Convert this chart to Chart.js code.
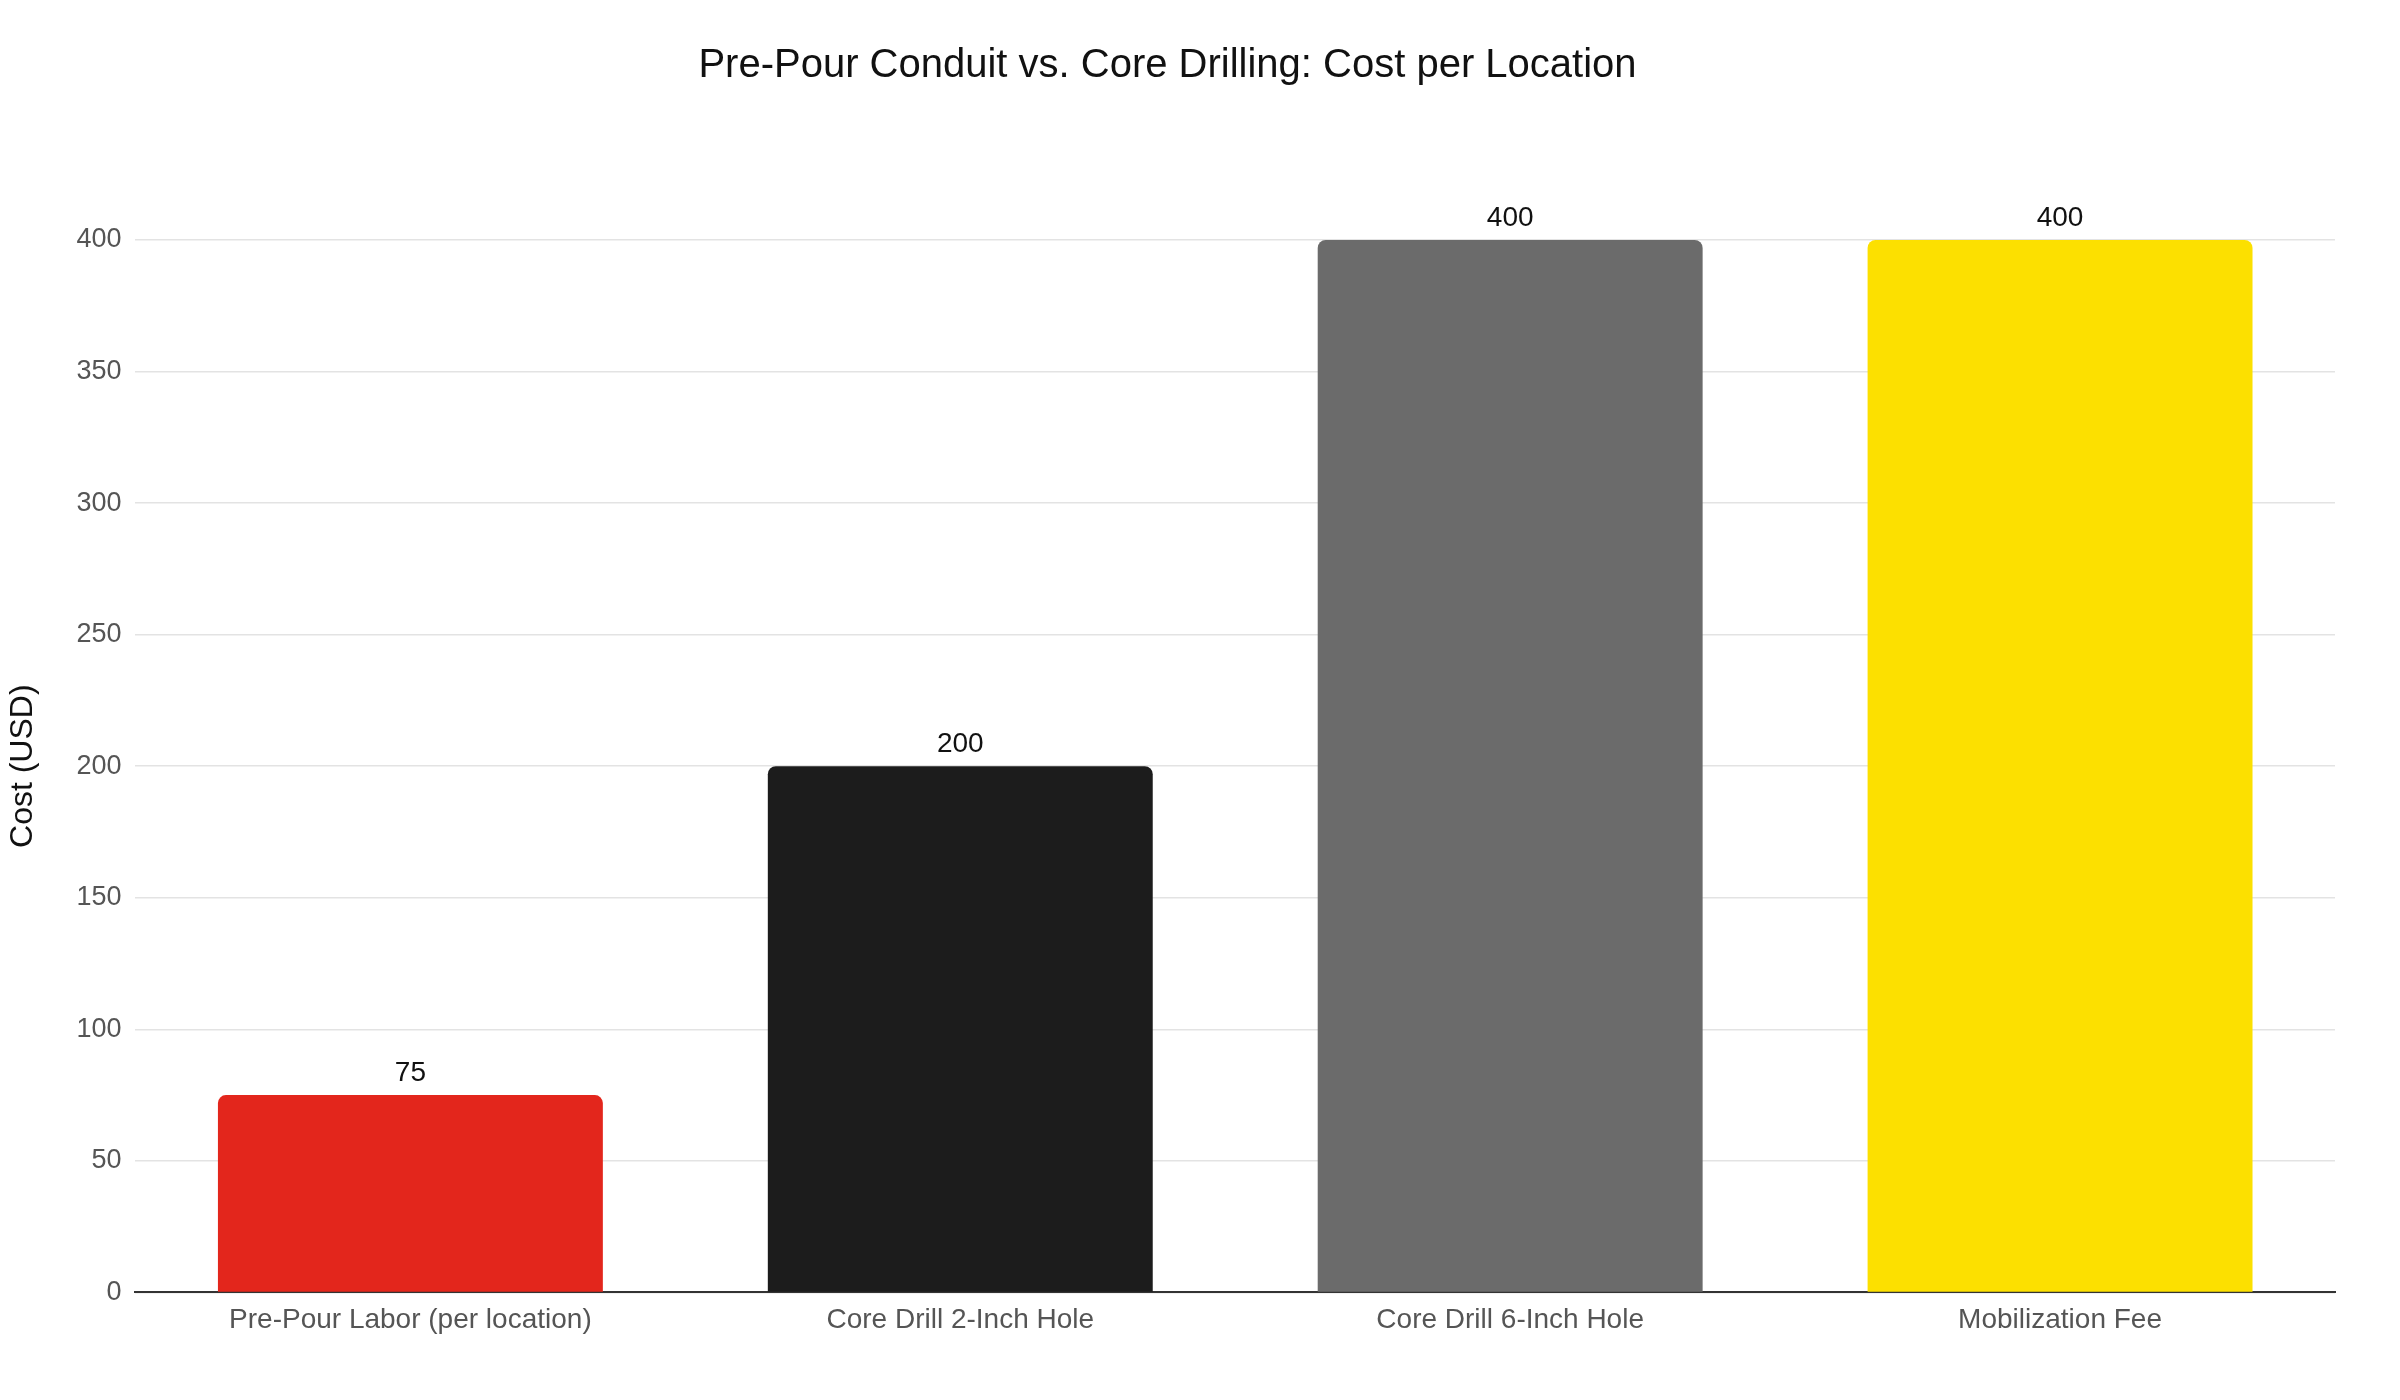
<!DOCTYPE html>
<html>
<head>
<meta charset="utf-8">
<script src="https://cdn.jsdelivr.net/npm/chart.js@4/dist/chart.umd.min.js"></script>
<style>
  body { margin: 0; background: #fff; }
  #wrap { width: 2400px; height: 1400px; }
</style>
</head>
<body>
<div id="wrap"><canvas id="chart"></canvas></div>
<script>
'use strict';

var categories = ['Pre-Pour Labor (per location)', 'Core Drill 2-Inch Hole', 'Core Drill 6-Inch Hole', 'Mobilization Fee'];
var costs = [75, 200, 400, 400];
var barColors = ['#E3261C', '#1C1C1C', '#6B6B6B', '#FCE000'];

// draw value labels above bars
var valueLabels = {
  id: 'valueLabels',
  afterDatasetsDraw: function(chart) {
    var ctx = chart.ctx;
    var meta = chart.getDatasetMeta(0);
    ctx.save();
    ctx.font = '28px Arial, "Liberation Sans", sans-serif';
    ctx.fillStyle = '#111';
    ctx.textAlign = 'center';
    ctx.textBaseline = 'bottom';
    meta.data.forEach(function(bar, i) {
      ctx.fillText(String(costs[i]), bar.x, bar.y - 8);
    });
    ctx.restore();
  }
};

new Chart(document.getElementById('chart'), {
  type: 'bar',
  data: {
    labels: categories,
    datasets: [{
      data: costs,
      backgroundColor: barColors,
      borderRadius: { topLeft: 8, topRight: 8 },
      borderSkipped: 'bottom',
      categoryPercentage: 1,
      barPercentage: 0.7
    }]
  },
  options: {
    responsive: true,
    maintainAspectRatio: false,
    animation: false,
    layout: { padding: { left: 0, right: 65, top: 0, bottom: 60 } },
    plugins: {
      legend: { display: false },
      tooltip: { enabled: false },
      title: {
        display: true,
        text: 'Pre-Pour Conduit vs. Core Drilling: Cost per Location',
        color: '#111',
        font: { family: 'Arial, "Liberation Sans", sans-serif', size: 40, weight: 'normal' },
        padding: { top: 42, bottom: 150 }
      }
    },
    scales: {
      x: {
        grid: { display: false },
        border: { color: '#333', width: 2 },
        ticks: { color: '#555', font: { family: 'Arial, "Liberation Sans", sans-serif', size: 28 } }
      },
      y: {
        min: 0,
        max: 400,
        ticks: { stepSize: 50, color: '#555', padding: 14, font: { family: 'Arial, "Liberation Sans", sans-serif', size: 27 } },
        grid: { color: '#e3e3e3', lineWidth: 1.5, drawTicks: false },
        border: { display: false },
        title: {
          display: true,
          text: 'Cost (USD)',
          color: '#111',
          padding: { bottom: 20 },
          font: { family: 'Arial, "Liberation Sans", sans-serif', size: 32 }
        }
      }
    }
  },
  plugins: [valueLabels]
});
</script>
</body>
</html>
